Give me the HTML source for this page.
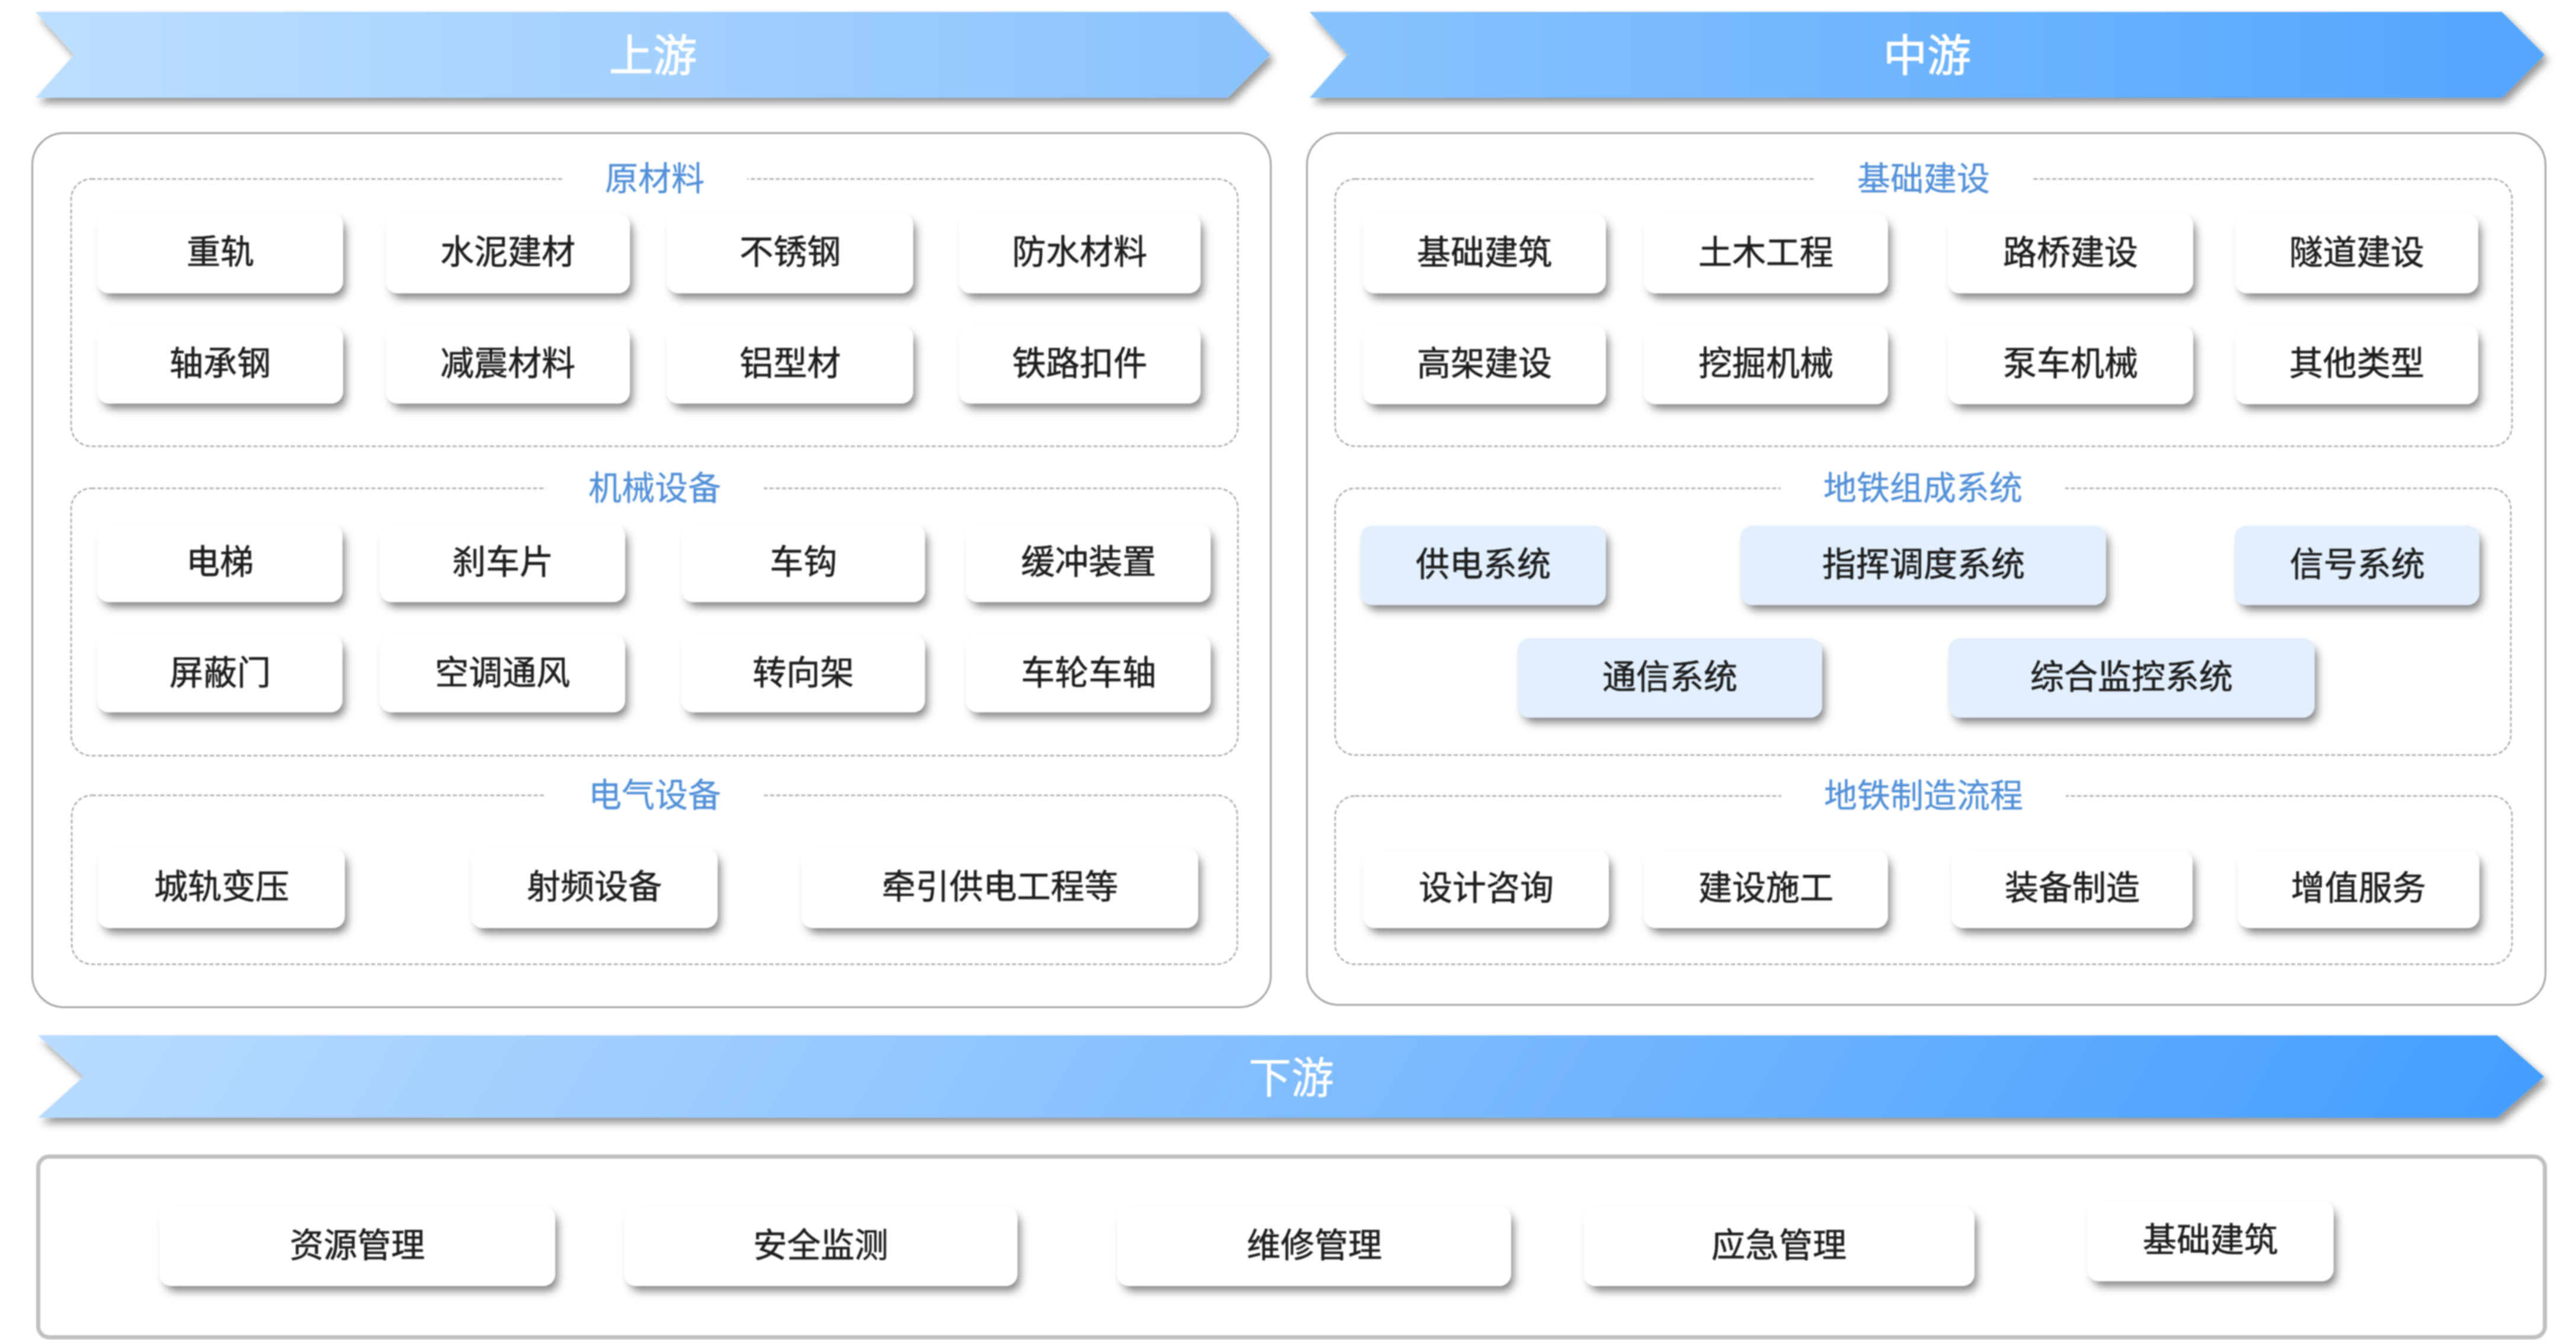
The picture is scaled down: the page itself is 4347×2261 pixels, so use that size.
<!DOCTYPE html>
<html lang="zh-CN"><head><meta charset="utf-8"><title>城轨产业链</title>
<style>
html,body{margin:0;padding:0;background:#fff;}
body{width:4347px;height:2261px;position:relative;overflow:hidden;font-family:'Liberation Sans', sans-serif;}
#wrap{position:absolute;left:0;top:0;width:4347px;height:2261px;filter:blur(0.8px);}
.ab{position:absolute;box-sizing:border-box;}
.ob{position:absolute;box-sizing:border-box;background:#fff;}
.db{position:absolute;box-sizing:border-box;border:2px dashed #a9a9a9;border-radius:36px;}
.tt{position:absolute;height:60px;line-height:60px;font-size:56px;color:#5391d8;-webkit-text-stroke:0.4px #5391d8;background:#fff;text-align:center;white-space:nowrap;transform:translate(-50%,-50%);padding:0 72px;}
.it{position:absolute;box-sizing:border-box;background:#fff;border-radius:20px;box-shadow:7px 11px 15px -3px rgba(40,40,40,0.6);display:flex;align-items:center;justify-content:center;font-size:57px;font-weight:400;color:#1e1e1e;-webkit-text-stroke:0.7px #1e1e1e;white-space:nowrap;}
.it.bl{background:#e2effd;}
.it span{position:relative;top:-7px;}
.bt{position:absolute;color:#fff;white-space:nowrap;transform:translate(-50%,-50%);line-height:1;}
</style></head><body><div id="wrap">

<svg class="ab" style="left:0;top:0" width="4347" height="2261" viewBox="0 0 4347 2261"><defs><filter id="sh" x="-5%" y="-30%" width="110%" height="160%"><feDropShadow dx="6" dy="9" stdDeviation="7" flood-color="#000" flood-opacity="0.42"/></filter><linearGradient id="g0" gradientUnits="userSpaceOnUse" x1="60" y1="0" x2="2144" y2="0"><stop offset="0" stop-color="#bedfff"/><stop offset="1" stop-color="#8ac2fd"/></linearGradient><linearGradient id="g1" gradientUnits="userSpaceOnUse" x1="2210" y1="0" x2="4294" y2="0"><stop offset="0" stop-color="#89c3fc"/><stop offset="1" stop-color="#53a6fe"/></linearGradient><linearGradient id="g2" gradientUnits="userSpaceOnUse" x1="64" y1="1747" x2="3234.9" y2="3649.5"><stop offset="0" stop-color="#b9dcff"/><stop offset="0.4" stop-color="#8ec4fe"/><stop offset="1" stop-color="#429dfe"/></linearGradient></defs><polygon points="60,20 2072,20 2144,92.5 2072,165 60,165 125,92.5" fill="url(#g0)" filter="url(#sh)"/><polygon points="2210,20 4222,20 4294,92.5 4222,165 2210,165 2274,92.5" fill="url(#g1)" filter="url(#sh)"/><polygon points="64,1747 4214,1747 4293,1816.5 4214,1886 64,1886 141,1816.5" fill="url(#g2)" filter="url(#sh)"/></svg>
<div class="bt" style="left:1102.0px;top:94.5px;font-size:74px;-webkit-text-stroke:1.2px #fff;">上游</div>
<div class="bt" style="left:3252.0px;top:94.5px;font-size:74px;-webkit-text-stroke:1.2px #fff;">中游</div>
<div class="bt" style="left:2178.5px;top:1818.5px;font-size:72px;-webkit-text-stroke:0.4px #fff;">下游</div>
<div class="ob" style="left:53px;top:223px;width:2093px;height:1478px;border:3.5px solid #a4a4a4;border-radius:55px"></div>
<div class="ob" style="left:2204px;top:223px;width:2093px;height:1474px;border:3.5px solid #a4a4a4;border-radius:55px"></div>
<div class="ob" style="left:61px;top:1948px;width:4237px;height:312px;border:7px solid #c0c0c0;border-radius:22px"></div>
<svg class="ab" style="left:0;top:0" width="4347" height="2261"><rect x="120" y="302" width="1969" height="451" rx="34" ry="34" fill="none" stroke="#a8a8a8" stroke-width="2.5" stroke-dasharray="7 3.5"/><rect x="120" y="824" width="1969" height="451" rx="34" ry="34" fill="none" stroke="#a8a8a8" stroke-width="2.5" stroke-dasharray="7 3.5"/><rect x="121" y="1342" width="1967" height="285" rx="34" ry="34" fill="none" stroke="#a8a8a8" stroke-width="2.5" stroke-dasharray="7 3.5"/><rect x="2253" y="302" width="1986" height="451" rx="34" ry="34" fill="none" stroke="#a8a8a8" stroke-width="2.5" stroke-dasharray="7 3.5"/><rect x="2253" y="824" width="1984" height="450" rx="34" ry="34" fill="none" stroke="#a8a8a8" stroke-width="2.5" stroke-dasharray="7 3.5"/><rect x="2253" y="1343" width="1986" height="284" rx="34" ry="34" fill="none" stroke="#a8a8a8" stroke-width="2.5" stroke-dasharray="7 3.5"/></svg>
<div class="tt" style="left:1104.5px;top:302px">原材料</div>
<div class="tt" style="left:1104.5px;top:824px">机械设备</div>
<div class="tt" style="left:1104.5px;top:1342px">电气设备</div>
<div class="tt" style="left:3246.0px;top:302px">基础建设</div>
<div class="tt" style="left:3245.0px;top:824px">地铁组成系统</div>
<div class="tt" style="left:3246.0px;top:1343px">地铁制造流程</div>
<div class="it" style="left:164px;top:359px;width:415px;height:136px"><span>重轨</span></div>
<div class="it" style="left:651px;top:359px;width:412px;height:136px"><span>水泥建材</span></div>
<div class="it" style="left:1125px;top:359px;width:416px;height:136px"><span>不锈钢</span></div>
<div class="it" style="left:1618px;top:359px;width:408px;height:136px"><span>防水材料</span></div>
<div class="it" style="left:164px;top:549px;width:415px;height:132px"><span>轴承钢</span></div>
<div class="it" style="left:651px;top:549px;width:412px;height:132px"><span>减震材料</span></div>
<div class="it" style="left:1125px;top:549px;width:416px;height:132px"><span>铝型材</span></div>
<div class="it" style="left:1618px;top:549px;width:408px;height:132px"><span>铁路扣件</span></div>
<div class="it" style="left:164px;top:884px;width:414px;height:132px"><span>电梯</span></div>
<div class="it" style="left:641px;top:884px;width:414px;height:132px"><span>刹车片</span></div>
<div class="it" style="left:1150px;top:884px;width:411px;height:132px"><span>车钩</span></div>
<div class="it" style="left:1630px;top:884px;width:413px;height:132px"><span>缓冲装置</span></div>
<div class="it" style="left:164px;top:1071px;width:414px;height:131px"><span>屏蔽门</span></div>
<div class="it" style="left:641px;top:1071px;width:414px;height:131px"><span>空调通风</span></div>
<div class="it" style="left:1150px;top:1071px;width:411px;height:131px"><span>转向架</span></div>
<div class="it" style="left:1630px;top:1071px;width:413px;height:131px"><span>车轮车轴</span></div>
<div class="it" style="left:165px;top:1430px;width:417px;height:136px"><span>城轨变压</span></div>
<div class="it" style="left:795px;top:1430px;width:416px;height:136px"><span>射频设备</span></div>
<div class="it" style="left:1352px;top:1430px;width:670px;height:136px"><span>牵引供电工程等</span></div>
<div class="it" style="left:2300px;top:360px;width:410px;height:135px"><span>基础建筑</span></div>
<div class="it" style="left:2774px;top:360px;width:412px;height:135px"><span>土木工程</span></div>
<div class="it" style="left:3287px;top:360px;width:414px;height:135px"><span>路桥建设</span></div>
<div class="it" style="left:3772px;top:360px;width:410px;height:135px"><span>隧道建设</span></div>
<div class="it" style="left:2300px;top:548px;width:410px;height:134px"><span>高架建设</span></div>
<div class="it" style="left:2774px;top:548px;width:412px;height:134px"><span>挖掘机械</span></div>
<div class="it" style="left:3287px;top:548px;width:414px;height:134px"><span>泵车机械</span></div>
<div class="it" style="left:3772px;top:548px;width:410px;height:134px"><span>其他类型</span></div>
<div class="it bl" style="left:2296px;top:887px;width:414px;height:134px"><span>供电系统</span></div>
<div class="it bl" style="left:2937px;top:887px;width:617px;height:134px"><span>指挥调度系统</span></div>
<div class="it bl" style="left:3771px;top:887px;width:413px;height:134px"><span>信号系统</span></div>
<div class="it bl" style="left:2561px;top:1077px;width:514px;height:134px"><span>通信系统</span></div>
<div class="it bl" style="left:3288px;top:1077px;width:618px;height:134px"><span>综合监控系统</span></div>
<div class="it" style="left:2300px;top:1434px;width:415px;height:132px"><span>设计咨询</span></div>
<div class="it" style="left:2774px;top:1434px;width:412px;height:132px"><span>建设施工</span></div>
<div class="it" style="left:3293px;top:1434px;width:407px;height:132px"><span>装备制造</span></div>
<div class="it" style="left:3776px;top:1434px;width:408px;height:132px"><span>增值服务</span></div>
<div class="it" style="left:269px;top:2035px;width:668px;height:135px"><span>资源管理</span></div>
<div class="it" style="left:1053px;top:2035px;width:664px;height:135px"><span>安全监测</span></div>
<div class="it" style="left:1885px;top:2035px;width:665px;height:135px"><span>维修管理</span></div>
<div class="it" style="left:2672px;top:2035px;width:660px;height:135px"><span>应急管理</span></div>
<div class="it" style="left:3522px;top:2026px;width:416px;height:136px"><span>基础建筑</span></div>
</div></body></html>
